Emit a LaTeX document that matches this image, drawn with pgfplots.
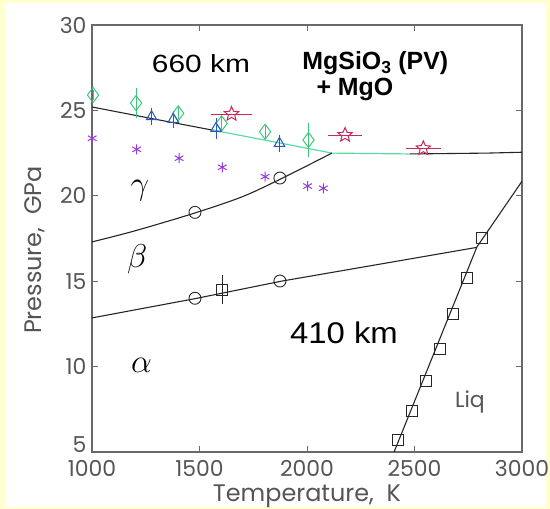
\documentclass[border=0pt]{standalone}
\usepackage{pgfplots}
\pgfplotsset{compat=1.18}
\usepackage{fontspec}
\setmainfont{Liberation Sans}
\newfontfamily\gothic{Poppins}
\usetikzlibrary{plotmarks}

\definecolor{bgyellow}{RGB}{255,255,208}
\definecolor{axgray}{RGB}{105,105,105}
\definecolor{txtgray}{RGB}{85,85,85}
\definecolor{dgreen}{RGB}{60,200,120}
\definecolor{lgreen}{RGB}{90,220,160}
\definecolor{tblue}{RGB}{40,90,190}
\definecolor{sred}{RGB}{200,40,90}
\definecolor{apurple}{RGB}{150,60,220}

% open five-pointed star
\pgfdeclareplotmark{ostar}{%
  \pgfpathmoveto{\pgfpointpolar{90}{\pgfplotmarksize}}%
  \pgfpathlineto{\pgfpointpolar{126}{0.45\pgfplotmarksize}}%
  \pgfpathlineto{\pgfpointpolar{162}{\pgfplotmarksize}}%
  \pgfpathlineto{\pgfpointpolar{198}{0.45\pgfplotmarksize}}%
  \pgfpathlineto{\pgfpointpolar{234}{\pgfplotmarksize}}%
  \pgfpathlineto{\pgfpointpolar{270}{0.45\pgfplotmarksize}}%
  \pgfpathlineto{\pgfpointpolar{306}{\pgfplotmarksize}}%
  \pgfpathlineto{\pgfpointpolar{342}{0.45\pgfplotmarksize}}%
  \pgfpathlineto{\pgfpointpolar{18}{\pgfplotmarksize}}%
  \pgfpathlineto{\pgfpointpolar{54}{0.45\pgfplotmarksize}}%
  \pgfpathclose
  \pgfusepathqstroke
}

\begin{document}
\begin{tikzpicture}
\fill[bgyellow] (-92bp,-57bp) rectangle (458bp,452bp);
\fill[white] (-87bp,-55bp) rectangle (454bp,449bp);
\begin{axis}[
    at={(0,0)}, anchor=south west,
    scale only axis,
    width=430bp, height=427bp,
    xmin=1000, xmax=3000,
    ymin=5, ymax=30,
    xtick={1000,1500,2000,2500,3000},
    ytick={10,15,20,25,30},
    extra y ticks={5},
    extra y tick style={yticklabel style={yshift=7bp}},
    tick align=inside,
    major tick length=6bp,
    axis line style={axgray, line width=1.3pt},
    every tick/.style={axgray, line width=1pt},
    /pgf/number format/assume math mode=true,
    /pgf/number format/1000 sep={},
    ticklabel style={font=\gothic\fontsize{22}{22}\selectfont, text=txtgray},
    xticklabel style={yshift=-5bp},
    yticklabel style={xshift=-2bp},
    xlabel={Temperature,\ \ K},
    ylabel={Pressure,\ \ GPa},
    label style={font=\gothic\fontsize{24}{24}\selectfont, text=txtgray},
    xlabel style={at={(axis description cs:0.5,-0.103)}, anchor=center},
    ylabel style={at={(axis description cs:-0.133,0.473)}, anchor=center},
    clip=false,
    error bars/error mark=none,
]

% pv + mgo boundary (black part)
\addplot[black!85, line width=1.1pt] coordinates {
  (1000,25.2) (1300,24.47) (1600,23.75)
};
% pv + mgo boundary (green part)
\addplot[lgreen, line width=1.2pt] coordinates {
  (1560,23.85) (1850,23.15) (2116,22.5) (2480,22.45)
};
\addplot[black!85, line width=1.1pt] coordinates {
  (2480,22.45) (2840,22.5) (3000,22.55)
};
% gamma / beta
\addplot[black!85, line width=1.1pt, smooth] coordinates {
  (1000,17.3) (1200,17.95) (1480,19.0) (1700,19.95) (1880,21.0) (2116,22.5)
};
% beta / alpha
\addplot[black!85, line width=1.1pt] coordinates {
  (1000,12.85) (1480,13.98) (1880,15.0) (2790,16.98)
};
% melting curve
\addplot[black!85, line width=1.1pt] coordinates {
  (2405,5) (2790,17.0) (3000,20.85)
};
\addplot[only marks, mark=square, mark size=5.5bp, black!85, line width=0.9pt] coordinates {
  (2425,5.7) (2490,7.4) (2553,9.16) (2619,11.03) (2681,13.08) (2746,15.2) (2812,17.51)
};
% circles
\addplot[only marks, mark=o, mark size=6bp, black!85, line width=0.9pt, fill=white] coordinates {
  (1479,19.03) (1874,21.04) (1479,14.0) (1874,15.01)
};
% square with error bar
\addplot[only marks, mark=square, mark size=5.5bp, black!85, line width=0.9pt,
  error bars/.cd, y dir=both, y explicit] coordinates {
  (1605,14.49) +- (0,0.85)
};
% purple asterisks
\addplot[only marks, mark=asterisk, mark size=5bp, apurple, line width=1pt] coordinates {
  (1001,23.37) (1208,22.72) (1405,22.2) (1606,21.67) (1805,21.12) (2003,20.57) (2076,20.44)
};
% green diamonds
\addplot[only marks, mark=diamond, mark size=7.5bp, dgreen, line width=1pt,
  error bars/.cd, y dir=both, y explicit] coordinates {
  (1005,25.9) +- (0,0.3)
  (1205,25.43) +- (0,0.9)
  (1401,24.83) +- (0,0.35)
  (1603,24.24) +- (0,0.4)
  (1805,23.75) +- (0,0.4)
  (2007,23.27) +- (0,1.0)
};
% blue triangles
\addplot[only marks, mark=triangle, mark size=6bp, tblue, line width=1pt,
  error bars/.cd, y dir=both, y explicit] coordinates {
  (1277,24.63) +- (0,0.5)
  (1378,24.48) +- (0,0.5)
  (1577,23.95) +- (0,0.6)
  (1872,23.07) +- (0,0.5)
};
% red stars
\addplot[only marks, mark=ostar, mark size=7.5bp, sred, line width=1pt,
  error bars/.cd, x dir=both, x explicit] coordinates {
  (1649,24.79) +- (97,0)
  (2177,23.56) +- (80,0)
  (2541,22.78) +- (80,0)
};

\node[font=\fontsize{25}{25}\selectfont, xscale=1.2] at (axis cs:1507,27.75) {660 km};
\node[font=\bfseries\fontsize{25}{25}\selectfont] at (axis cs:2318,27.75) {MgSiO\textsubscript{3} (PV)};
\node[font=\bfseries\fontsize{25}{25}\selectfont] at (axis cs:2223,26.2) {+ MgO};
\node[font=\fontsize{30}{30}\selectfont, xscale=1.1] at (axis cs:2172,12.0) {410 km};
\node[font=\gothic\fontsize{22}{22}\selectfont, text=txtgray] at (axis cs:2758,7.9) {Liq};
\node[font=\fontsize{20}{20}\selectfont, scale=1.6] at (axis cs:1223,20.3) {$\gamma$};
\node[font=\fontsize{20}{20}\selectfont, scale=1.6] at (axis cs:1210,16.3) {$\beta$};
\node[font=\fontsize{20}{20}\selectfont, scale=1.6] at (axis cs:1230,10.05) {$\alpha$};
\end{axis}
\pgfresetboundingbox
\path[use as bounding box] (-92bp,-57bp) rectangle (458bp,452bp);
\end{tikzpicture}
\end{document}
